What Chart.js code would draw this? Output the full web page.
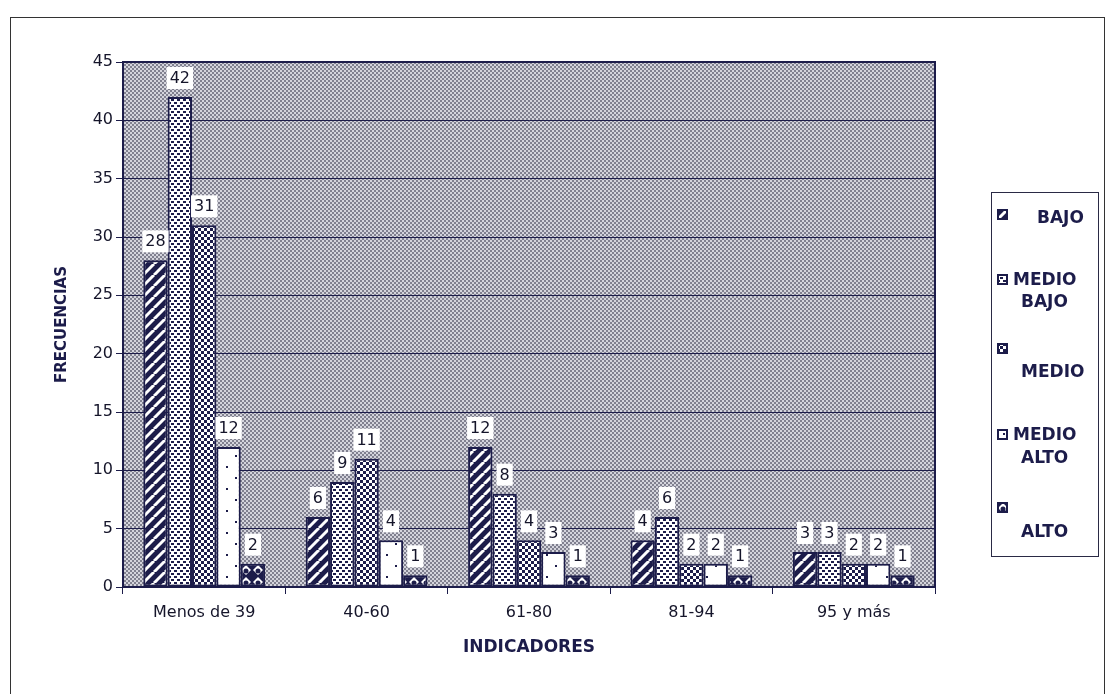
<!DOCTYPE html>
<html>
<head>
<meta charset="utf-8">
<script src="https://cdn.jsdelivr.net/npm/chart.js@4.4.1/dist/chart.umd.min.js"></script>
<style>
  html, body { margin: 0; padding: 0; background: #fff; }
  #wrap { position: relative; width: 1115px; height: 694px; }
  #legend { position: absolute; left: 991px; top: 192px; width: 108px; height: 365px;
            border: 1px solid #2a2a45; box-sizing: border-box;
            font-family: "DejaVu Sans", sans-serif; font-weight: bold; font-size: 17px; color: #1c1c4a; }
  #legend canvas, #legend span { position: absolute; }
  #legend span { white-space: nowrap; line-height: 20px; }
</style>
</head>
<body>
<div id="wrap">
  <canvas id="chart" width="1115" height="694"></canvas>
  <div id="legend"></div>
</div>
<script>
const categories = ['Menos de 39', '40-60', '61-80', '81-94', '95 y más'];
const seriesNames = ['BAJO', 'MEDIO BAJO', 'MEDIO', 'MEDIO ALTO', 'ALTO'];
const bajo = [28, 6, 12, 4, 3];
const medioBajo = [42, 9, 8, 6, 3];
const medio = [31, 11, 4, 2, 2];
const medioAlto = [12, 4, 3, 2, 2];
const alto = [2, 1, 1, 1, 1];
const yTicks = [0, 5, 10, 15, 20, 25, 30, 35, 40, 45];

const INK = '#1c1c4a';
const FONT = '"DejaVu Sans", sans-serif';

// little tiles to imitate the printed hatch fills
function tile(kind) {
    const c = document.createElement('canvas');
    const g = c.getContext('2d');
    if (kind === 'stripes') {
        c.width = c.height = 11;
        g.fillStyle = INK; g.fillRect(0, 0, 11, 11);
        g.strokeStyle = '#fff'; g.lineWidth = 3;
        for (let k = -11; k <= 22; k += 11) {
            g.beginPath(); g.moveTo(k, 11); g.lineTo(k + 11, 0); g.stroke();
        }
    } else if (kind === 'dashes') {
        c.width = 6; c.height = 6;
        g.fillStyle = '#fff'; g.fillRect(0, 0, 6, 6);
        g.fillStyle = INK; g.fillRect(0, 0, 3, 2); g.fillRect(3, 3, 3, 2);
    } else if (kind === 'checks') {
        c.width = c.height = 6;
        g.fillStyle = '#fff'; g.fillRect(0, 0, 6, 6);
        g.fillStyle = INK; g.fillRect(0, 0, 3, 3); g.fillRect(3, 3, 3, 3);
    } else if (kind === 'dots') {
        c.width = 20; c.height = 22;
        g.fillStyle = '#fff'; g.fillRect(0, 0, 20, 22);
        g.fillStyle = INK; g.fillRect(6, 4, 2, 2); g.fillRect(15, 15, 2, 2);
    } else if (kind === 'diamonds') {
        c.width = c.height = 12;
        g.fillStyle = INK; g.fillRect(0, 0, 12, 12);
        g.fillStyle = '#fff';
        g.beginPath(); g.moveTo(6, 1); g.lineTo(11, 6); g.lineTo(6, 11); g.lineTo(1, 6); g.closePath(); g.fill();
        g.fillStyle = INK; g.beginPath(); g.arc(6, 7, 2.5, 0, Math.PI * 2); g.fill();
    } else if (kind === 'grey') {
        c.width = c.height = 4;
        g.fillStyle = '#d4d4dc'; g.fillRect(0, 0, 4, 4);
        g.fillStyle = '#80808f'; g.fillRect(0, 0, 2, 2); g.fillRect(2, 2, 2, 2);
    }
    return c;
}

const ctx = document.getElementById('chart').getContext('2d');
const kinds = ['stripes', 'dashes', 'checks', 'dots', 'diamonds'];
const fills = kinds.map(k => ctx.createPattern(tile(k), 'repeat'));
const greyFill = ctx.createPattern(tile('grey'), 'repeat');
const values = [bajo, medioBajo, medio, medioAlto, alto];

const plotBackground = {
    id: 'plotBackground',
    beforeDraw(chart) {
        const a = chart.chartArea, c = chart.ctx;
        c.save();
        c.fillStyle = greyFill;
        c.fillRect(a.left, a.top, a.right - a.left, a.bottom - a.top);
        c.restore();
    },
    afterDraw(chart) {
        const c = chart.ctx, a = chart.chartArea;
        c.save();
        // plot frame
        c.strokeStyle = INK; c.lineWidth = 2;
        c.beginPath(); c.moveTo(a.left, a.top); c.lineTo(a.right, a.top); c.lineTo(a.right, a.bottom); c.stroke();
        // outer frame
        c.strokeStyle = '#333'; c.lineWidth = 1;
        c.strokeRect(10.5, 17.5, 1094, 680);
        c.restore();
    }
};

const valueLabels = {
    id: 'valueLabels',
    afterDatasetsDraw(chart) {
        const c = chart.ctx;
        c.save();
        c.font = '16px ' + FONT;
        c.textAlign = 'center'; c.textBaseline = 'middle';
        chart.data.datasets.forEach((ds, i) => {
            chart.getDatasetMeta(i).data.forEach((bar, j) => {
                const txt = String(ds.data[j]);
                const w = c.measureText(txt).width + 6;
                const y = bar.y - 19;
                c.fillStyle = '#fff';
                c.fillRect(bar.x - w / 2, y - 11, w, 22);
                c.fillStyle = '#15152a';
                c.fillText(txt, bar.x, y + 1);
            });
        });
        c.restore();
    }
};

new Chart(ctx, {
    type: 'bar',
    data: {
        labels: categories,
        datasets: seriesNames.map((name, i) => ({
            label: name,
            data: values[i],
            backgroundColor: fills[i],
            borderColor: INK,
            borderWidth: 2,
            borderSkipped: false,
            barPercentage: 1,
            categoryPercentage: 0.75
        }))
    },
    options: {
        responsive: false,
        animation: false,
        layout: { padding: { left: 49, right: 180, top: 62, bottom: 27 } },
        plugins: { legend: { display: false }, tooltip: { enabled: false } },
        scales: {
            x: {
                afterFit(scale) { scale.height = 80; },
                grid: { display: true, drawOnChartArea: false, offset: true, color: INK, tickLength: 7, lineWidth: 1 },
                border: { color: INK, width: 2 },
                ticks: { color: '#15152a', font: { family: FONT, size: 16 }, padding: 9 },
                title: { display: true, text: 'INDICADORES', color: INK,
                         font: { family: FONT, size: 17, weight: 'bold' }, padding: { top: 4, bottom: 9 } }
            },
            y: {
                min: 0, max: 45,
                afterFit(scale) { scale.width = 74; },
                afterBuildTicks(scale) { scale.ticks = yTicks.map(v => ({ value: v })); },
                grid: { color: INK, lineWidth: 1, tickLength: 7 },
                border: { color: INK, width: 2 },
                ticks: { color: '#15152a', font: { family: FONT, size: 16 }, padding: 3 },
                title: { display: true, text: 'FRECUENCIAS', color: INK,
                         font: { family: FONT, size: 15, weight: 'bold' }, padding: { top: 4, bottom: 4 } }
            }
        }
    },
    plugins: [plotBackground, valueLabels]
});

// legend, wrapped the way the spreadsheet wrapped it (positions relative to the box)
const legendLayout = [
    { swatch: 16, lines: [[45, 14]] },
    { swatch: 81, lines: [[21, 76], [29, 98]] },
    { swatch: 150, lines: [[29, 168]] },
    { swatch: 236, lines: [[21, 231], [29, 254]] },
    { swatch: 309, lines: [[29, 328]] }
];
const legend = document.getElementById('legend');
legendLayout.forEach((item, i) => {
    const sw = document.createElement('canvas');
    sw.width = 11; sw.height = 11;
    sw.style.left = '5px'; sw.style.top = item.swatch + 'px';
    const g = sw.getContext('2d');
    g.fillStyle = g.createPattern(tile(kinds[i]), 'repeat');
    g.fillRect(0, 0, 11, 11);
    g.strokeStyle = INK; g.lineWidth = 2; g.strokeRect(1, 1, 9, 9);
    legend.appendChild(sw);
    const words = seriesNames[i].split(' ');
    item.lines.forEach((pos, k) => {
        const s = document.createElement('span');
        s.textContent = words[k];
        s.style.left = pos[0] + 'px';
        s.style.top = pos[1] + 'px';
        legend.appendChild(s);
    });
});
</script>
</body>
</html>
